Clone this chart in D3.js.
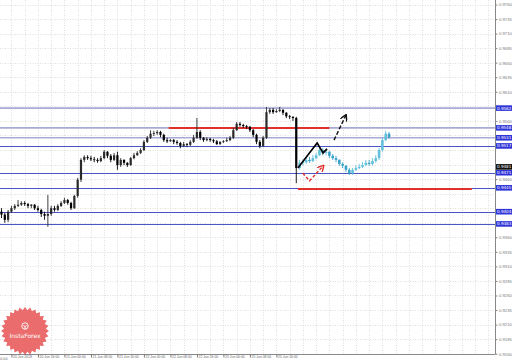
<!DOCTYPE html>
<html>
  <head>
    <meta charset="UTF-8" />
    <title>USDCHF H1</title>
    <style>
      body { margin: 0; background: #fff; }
      svg { display: block; font-family: 'DejaVu Sans', sans-serif; }
    </style>
  </head>
  <body>
    <svg width="512" height="361"></svg>
    <script src="https://cdnjs.cloudflare.com/ajax/libs/d3/7.8.5/d3.min.js"></script>
    <script>
      // hourly candles: [open, high, low, close]
      const candles = [
        [0.9404, 0.9410, 0.9393, 0.9399], [0.9399, 0.9402, 0.9385, 0.9390], [0.9390, 0.9407, 0.9386, 0.9404],
        [0.9404, 0.9414, 0.9402, 0.9410], [0.9410, 0.9417, 0.9407, 0.9414], [0.9414, 0.9424, 0.9412, 0.9416],
        [0.9416, 0.9422, 0.9414, 0.9419], [0.9419, 0.9422, 0.9414, 0.9417], [0.9417, 0.9419, 0.9410, 0.9414],
        [0.9414, 0.9417, 0.9410, 0.9416], [0.9416, 0.9417, 0.9407, 0.9410], [0.9410, 0.9414, 0.9404, 0.9407],
        [0.9407, 0.9409, 0.9395, 0.9400], [0.9400, 0.9404, 0.9390, 0.9397], [0.9397, 0.9433, 0.9378, 0.9400],
        [0.9400, 0.9414, 0.9397, 0.9410], [0.9410, 0.9414, 0.9404, 0.9407], [0.9407, 0.9417, 0.9405, 0.9414],
        [0.9414, 0.9422, 0.9412, 0.9419], [0.9419, 0.9428, 0.9417, 0.9424], [0.9424, 0.9426, 0.9416, 0.9419],
        [0.9419, 0.9421, 0.9407, 0.9410], [0.9410, 0.9433, 0.9409, 0.9431], [0.9431, 0.9462, 0.9428, 0.9459],
        [0.9459, 0.9496, 0.9455, 0.9493], [0.9493, 0.9501, 0.9489, 0.9498], [0.9498, 0.9501, 0.9493, 0.9496],
        [0.9496, 0.9500, 0.9491, 0.9494], [0.9494, 0.9498, 0.9489, 0.9493], [0.9493, 0.9496, 0.9488, 0.9491],
        [0.9491, 0.9500, 0.9489, 0.9496], [0.9496, 0.9510, 0.9494, 0.9507], [0.9507, 0.9508, 0.9496, 0.9500],
        [0.9500, 0.9503, 0.9489, 0.9493], [0.9493, 0.9505, 0.9491, 0.9501], [0.9501, 0.9507, 0.9476, 0.9484],
        [0.9484, 0.9496, 0.9481, 0.9493], [0.9493, 0.9494, 0.9484, 0.9488], [0.9488, 0.9489, 0.9481, 0.9484],
        [0.9484, 0.9498, 0.9483, 0.9496], [0.9496, 0.9505, 0.9494, 0.9501], [0.9501, 0.9508, 0.9500, 0.9505],
        [0.9505, 0.9513, 0.9503, 0.9510], [0.9510, 0.9527, 0.9508, 0.9524], [0.9524, 0.9534, 0.9522, 0.9531],
        [0.9531, 0.9544, 0.9529, 0.9538], [0.9538, 0.9543, 0.9534, 0.9539], [0.9539, 0.9544, 0.9536, 0.9541],
        [0.9541, 0.9543, 0.9532, 0.9536], [0.9536, 0.9538, 0.9524, 0.9527], [0.9527, 0.9531, 0.9522, 0.9525],
        [0.9525, 0.9529, 0.9524, 0.9527], [0.9527, 0.9529, 0.9520, 0.9524], [0.9524, 0.9527, 0.9519, 0.9522],
        [0.9522, 0.9524, 0.9513, 0.9517], [0.9517, 0.9524, 0.9515, 0.9520], [0.9520, 0.9522, 0.9515, 0.9519],
        [0.9519, 0.9527, 0.9517, 0.9524], [0.9524, 0.9536, 0.9522, 0.9531], [0.9531, 0.9565, 0.9529, 0.9541],
        [0.9541, 0.9544, 0.9527, 0.9531], [0.9531, 0.9532, 0.9524, 0.9527], [0.9527, 0.9532, 0.9525, 0.9529],
        [0.9529, 0.9531, 0.9524, 0.9527], [0.9527, 0.9529, 0.9522, 0.9525], [0.9525, 0.9527, 0.9519, 0.9520],
        [0.9520, 0.9525, 0.9519, 0.9524], [0.9524, 0.9527, 0.9522, 0.9525], [0.9525, 0.9531, 0.9524, 0.9527],
        [0.9527, 0.9534, 0.9525, 0.9531], [0.9531, 0.9548, 0.9529, 0.9544], [0.9544, 0.9558, 0.9543, 0.9555],
        [0.9555, 0.9558, 0.9550, 0.9553], [0.9553, 0.9555, 0.9548, 0.9551], [0.9551, 0.9553, 0.9546, 0.9550],
        [0.9550, 0.9551, 0.9541, 0.9544], [0.9544, 0.9546, 0.9532, 0.9536], [0.9536, 0.9538, 0.9520, 0.9524],
        [0.9524, 0.9527, 0.9513, 0.9517], [0.9517, 0.9534, 0.9515, 0.9531], [0.9531, 0.9584, 0.9529, 0.9575],
        [0.9575, 0.9582, 0.9572, 0.9579], [0.9579, 0.9582, 0.9572, 0.9575], [0.9575, 0.9580, 0.9574, 0.9577],
        [0.9577, 0.9584, 0.9575, 0.9579], [0.9579, 0.9580, 0.9570, 0.9574], [0.9574, 0.9575, 0.9565, 0.9568],
        [0.9568, 0.9570, 0.9563, 0.9567], [0.9567, 0.9568, 0.9560, 0.9565], [0.9565, 0.9567, 0.9453, 0.9479],
      ];

      // expected path drawn in cyan after the last real candle
      const forecast = [
        [0.9479, 0.9493, 0.9476, 0.9488], [0.9488, 0.9494, 0.9483, 0.9489], [0.9489, 0.9496, 0.9486, 0.9493],
        [0.9493, 0.9498, 0.9488, 0.9491], [0.9491, 0.9501, 0.9489, 0.9496], [0.9496, 0.9505, 0.9494, 0.9501],
        [0.9501, 0.9515, 0.9500, 0.9510], [0.9510, 0.9513, 0.9501, 0.9505], [0.9505, 0.9512, 0.9501, 0.9507],
        [0.9507, 0.9508, 0.9496, 0.9500], [0.9500, 0.9503, 0.9493, 0.9496], [0.9496, 0.9500, 0.9489, 0.9493],
        [0.9493, 0.9494, 0.9483, 0.9486], [0.9486, 0.9489, 0.9479, 0.9483], [0.9483, 0.9484, 0.9472, 0.9476],
        [0.9476, 0.9479, 0.9467, 0.9470], [0.9470, 0.9479, 0.9467, 0.9476], [0.9476, 0.9484, 0.9474, 0.9479],
        [0.9479, 0.9486, 0.9477, 0.9481], [0.9481, 0.9489, 0.9479, 0.9484], [0.9484, 0.9493, 0.9483, 0.9488],
        [0.9488, 0.9493, 0.9483, 0.9486], [0.9486, 0.9496, 0.9483, 0.9491], [0.9491, 0.9501, 0.9488, 0.9496],
        [0.9496, 0.9513, 0.9493, 0.9510], [0.9510, 0.9531, 0.9507, 0.9527], [0.9527, 0.9543, 0.9525, 0.9538],
        [0.9538, 0.9541, 0.9529, 0.9532],
      ];

      const priceTicks = [
        0.9760, 0.9735, 0.9710, 0.9685, 0.9660, 0.9635, 0.9610, 0.9585, 0.9560, 0.9535,
        0.9510, 0.9485, 0.9460, 0.9435, 0.9410, 0.9385, 0.9360, 0.9335, 0.9310, 0.9285,
        0.9260, 0.9235, 0.9210, 0.9185, 0.9160,
      ];

      const timeLabels = [
        '20 Jun 2018', '20 Jun 16:00', '21 Jun 00:00', '21 Jun 08:00', '21 Jun 16:00', '22 Jun 00:00',
        '22 Jun 08:00', '22 Jun 16:00', '25 Jun 00:00', '25 Jun 08:00', '25 Jun 16:00',
      ];

      const paleLevels = [0.9582, 0.9548, 0.9531];
      const blueLevels = [0.9517, 0.9471, 0.9445, 0.9404, 0.9383];
      const currentPrice = 0.9481;

      const resistance = { from: 50.5, to: 99, price: 0.9548 };
      const support = { from: 89.5, to: 142, price: 0.9443 };

      const zigzag = [[89.5, 0.9479], [95.3, 0.9522], [97.1, 0.9505], [98.3, 0.9512]];
      const redArrow = [[91, 0.9470], [93, 0.9457], [97.2, 0.9483]];
      const blackArrow = [[100.4, 0.9527], [104, 0.9570]];

      const svg = d3.select('svg');
      const plotRight = 495;
      const plotBottom = 354;

      const xScale = d3.scaleLinear().domain([-0.45, 149]).range([0, plotRight]);
      const yScale = d3.scaleLinear().domain([0.976, 0.916]).range([4.5, 353.7]);

      const defs = svg.append('defs');
      const marker = (id, color) =>
        defs.append('marker')
          .attr('id', id)
          .attr('viewBox', '0 0 10 10')
          .attr('refX', 8).attr('refY', 5)
          .attr('markerWidth', 5).attr('markerHeight', 5)
          .attr('orient', 'auto')
          .append('path')
          .attr('d', 'M0,0 L9,5 L0,10')
          .attr('fill', 'none')
          .attr('stroke', color)
          .attr('stroke-width', 2);
      marker('head-red', '#e0302c');
      marker('head-black', '#111');

      // grid
      const grid = svg.append('g');
      grid.selectAll('line.h')
        .data(priceTicks)
        .join('line')
        .attr('class', 'h')
        .attr('x1', 0).attr('x2', plotRight)
        .attr('y1', (d) => Math.round(yScale(d)) + 0.5)
        .attr('y2', (d) => Math.round(yScale(d)) + 0.5)
        .attr('stroke', '#dedede')
        .attr('stroke-dasharray', '1,1.5');

      const gridBars = d3.range(3, 149, 4);
      grid.selectAll('line.v')
        .data(gridBars)
        .join('line')
        .attr('class', 'v')
        .attr('x1', (d) => Math.round(xScale(d)) + 0.5)
        .attr('x2', (d) => Math.round(xScale(d)) + 0.5)
        .attr('y1', 0).attr('y2', plotBottom)
        .attr('stroke', '#dedede')
        .attr('stroke-dasharray', '1,1.5');

      // InstaForex badge
      const badge = svg.append('g').attr('transform', 'translate(25,331)');
      const teeth = 56;
      const starPts = d3.range(teeth).map((i) => [
        (i / teeth) * 2 * Math.PI,
        i % 2 === 0 ? 24 : 21,
      ]);
      badge.append('path')
        .attr('d', d3.lineRadial().curve(d3.curveLinearClosed)(starPts))
        .attr('fill', '#e8605f')
        .attr('opacity', 0.92);
      badge.append('circle').attr('cx', 0).attr('cy', -5).attr('r', 3.2)
        .attr('fill', 'none').attr('stroke', '#fff').attr('stroke-width', 0.9);
      badge.append('path').attr('d', 'M-1.5,-6 L0,-3.5 L1.5,-6 M0,-3.5 L0,-1.5')
        .attr('stroke', '#fff').attr('stroke-width', 0.8).attr('fill', 'none');
      badge.append('text')
        .attr('y', 7)
        .attr('text-anchor', 'middle')
        .attr('font-size', 6)
        .attr('fill', '#fff')
        .text('InstaForex');

      // horizontal levels
      const levels = svg.append('g');
      levels.selectAll('line.pale')
        .data(paleLevels)
        .join('line')
        .attr('class', 'pale')
        .attr('x1', 0).attr('x2', plotRight)
        .attr('y1', (d) => yScale(d)).attr('y2', (d) => yScale(d))
        .attr('stroke', '#a9a9d6')
        .attr('stroke-width', 1.6);
      levels.selectAll('line.blue')
        .data(blueLevels)
        .join('line')
        .attr('class', 'blue')
        .attr('x1', 0).attr('x2', plotRight)
        .attr('y1', (d) => Math.round(yScale(d)) + 0.5)
        .attr('y2', (d) => Math.round(yScale(d)) + 0.5)
        .attr('stroke', '#4a55c8')
        .attr('stroke-width', 1);

      [resistance, support].forEach((r) => {
        levels.append('line')
          .attr('x1', xScale(r.from)).attr('x2', xScale(r.to))
          .attr('y1', yScale(r.price)).attr('y2', yScale(r.price))
          .attr('stroke', '#e0302c')
          .attr('stroke-width', 2);
      });

      // candles
      const drawCandles = (data, offset, up, down, w) => {
        const g = svg.append('g');
        const pos = (d, i) => xScale(i + offset);
        g.selectAll('line')
          .data(data)
          .join('line')
          .attr('x1', pos).attr('x2', pos)
          .attr('y1', (d) => yScale(d[1]))
          .attr('y2', (d) => yScale(d[2]))
          .attr('stroke', (d) => (d[3] >= d[0] ? up : down))
          .attr('stroke-width', 0.9);
        g.selectAll('rect')
          .data(data)
          .join('rect')
          .attr('x', (d, i) => pos(d, i) - w / 2)
          .attr('width', w)
          .attr('y', (d) => yScale(Math.max(d[0], d[3])))
          .attr('height', (d) => Math.max(0.8, Math.abs(yScale(d[0]) - yScale(d[3]))))
          .attr('fill', (d) => (d[3] >= d[0] ? up : down));
      };
      drawCandles(candles, 0, '#2a2a2a', '#000', 2.2);
      drawCandles(forecast, candles.length, '#62c0da', '#3aa2c6', 2.6);

      // pattern lines
      const line = d3.line().x((d) => xScale(d[0])).y((d) => yScale(d[1]));
      svg.append('path')
        .attr('d', line(zigzag))
        .attr('fill', 'none')
        .attr('stroke', '#000')
        .attr('stroke-width', 1.6);
      svg.append('path')
        .attr('d', line(redArrow))
        .attr('fill', 'none')
        .attr('stroke', '#e0302c')
        .attr('stroke-width', 1.4)
        .attr('stroke-dasharray', '3,2')
        .attr('marker-end', 'url(#head-red)');
      svg.append('path')
        .attr('d', line(blackArrow))
        .attr('fill', 'none')
        .attr('stroke', '#111')
        .attr('stroke-width', 1.4)
        .attr('stroke-dasharray', '4,2')
        .attr('marker-end', 'url(#head-black)');

      // price axis; plain labels under a level tag are left out
      const tagged = paleLevels.concat(blueLevels, [currentPrice]);
      const freeTicks = priceTicks.filter(
        (t) => !tagged.some((p) => Math.abs(yScale(p) - yScale(t)) < 6)
      );
      const yAxisG = svg.append('g')
        .attr('transform', `translate(${plotRight + 0.5},0)`)
        .call(d3.axisRight(yScale).tickValues(freeTicks).tickFormat(d3.format('.4f')).tickSize(2).tickSizeOuter(0));
      yAxisG.select('.domain').attr('d', `M0,0V${plotBottom}`).attr('stroke', '#888');
      yAxisG.selectAll('.tick line').attr('stroke', '#888');
      yAxisG.selectAll('.tick text').attr('font-size', 4.2).attr('fill', '#777').attr('x', 3.5);

      // level tags on the price axis
      const tags = svg.append('g');
      const tag = (price, fill) => {
        const y = yScale(price);
        tags.append('rect')
          .attr('x', plotRight + 1).attr('y', y - 2.8)
          .attr('width', 16).attr('height', 5.6)
          .attr('fill', fill);
        tags.append('text')
          .attr('x', plotRight + 2).attr('y', y + 1.5)
          .attr('font-size', 4.1)
          .attr('fill', '#fff')
          .text(d3.format('.4f')(price));
      };
      paleLevels.concat(blueLevels).forEach((p) => tag(p, '#2f35d8'));
      tag(currentPrice, '#111');

      // time axis
      const timeTicks = timeLabels.map((d, i) => 3 + i * 8);
      const xAxisG = svg.append('g')
        .attr('transform', `translate(0,${plotBottom + 0.5})`)
        .call(d3.axisBottom(xScale).tickValues(timeTicks).tickFormat((d, i) => timeLabels[i]).tickSize(3).tickSizeOuter(0));
      xAxisG.select('.domain').attr('d', `M0,0H${plotRight + 0.5}`).attr('stroke', '#888');
      xAxisG.selectAll('.tick line').attr('stroke', '#777');
      xAxisG.selectAll('.tick text')
        .attr('font-size', 3.4)
        .attr('fill', '#666')
        .attr('text-anchor', 'start')
        .attr('x', 1.2)
        .attr('y', 1.2);
      svg.append('text')
        .attr('x', 0).attr('y', plotBottom + 5.5)
        .attr('font-size', 3.4).attr('fill', '#666')
        .text('0:00');
    </script>
  </body>
</html>
